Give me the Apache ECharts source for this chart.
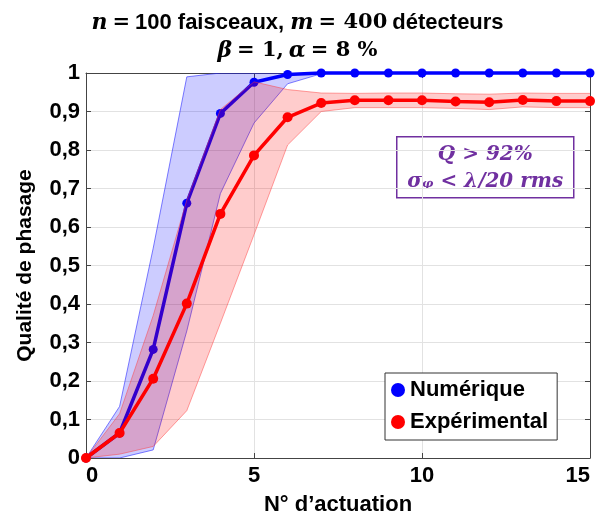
<!DOCTYPE html>
<html>
<head>
<meta charset="utf-8">
<script src="https://cdn.jsdelivr.net/npm/echarts@6/dist/echarts.min.js"></script>
<style>html,body{margin:0;padding:0;background:#fff}#c{width:595px;height:515px}</style>
</head>
<body>
<div id="c"></div>
<script>
const xValues = [0,1,2,3,4,5,6,7,8,9,10,11,12,13,14,15];
const numerique    = [0, 0.065, 0.282, 0.662, 0.895, 0.976, 0.996, 1, 1, 1, 1, 1, 1, 1, 1, 1];
const numLow       = [0, 0, 0.021, 0.33, 0.687, 0.870, 0.972, 0.998, 1, 1, 1, 1, 1, 1, 1, 1];
const numHigh      = [0, 0.134, 0.545, 0.99, 1, 1, 1, 1, 1, 1, 1, 1, 1, 1, 1, 1];
const experimental = [0, 0.065, 0.206, 0.401, 0.634, 0.786, 0.885, 0.922, 0.929, 0.929, 0.929, 0.926, 0.924, 0.930, 0.927, 0.927];
const expLow       = [0, 0.01, 0.03, 0.123, 0.35, 0.58, 0.813, 0.90, 0.91, 0.91, 0.91, 0.908, 0.905, 0.912, 0.91, 0.91];
const expHigh      = [0, 0.115, 0.37, 0.67, 0.905, 0.977, 0.957, 0.948, 0.947, 0.948, 0.948, 0.946, 0.945, 0.948, 0.947, 0.947];
const seriesNames  = ['Numérique', 'Expérimental'];
const xTicks = { min: 0, max: 15, interval: 5 };
const yTicks = { min: 0, max: 1, interval: 0.1 };

const sans = 'Liberation Sans, Arial, sans-serif';
const serif = 'DejaVu Serif, serif';

function bandSeries(low, high, fill, edge, z) {
  return {
    type: 'custom', z: z, clip: true, silent: true,
    data: [0],
    renderItem: function (params, api) {
      const up = xValues.map((x, i) => api.coord([x, high[i]]));
      const lo = xValues.map((x, i) => api.coord([x, low[i]])).reverse();
      return {
        type: 'group',
        children: [
          { type: 'polygon', shape: { points: up.concat(lo) }, style: { fill: fill, stroke: null } },
          { type: 'polyline', shape: { points: up }, style: { fill: null, stroke: edge, lineWidth: 0.8 } },
          { type: 'polyline', shape: { points: lo }, style: { fill: null, stroke: edge, lineWidth: 0.8 } }
        ]
      };
    }
  };
}

const chart = echarts.init(document.getElementById('c'), null, { renderer: 'canvas' });
const yFmt = v => (Math.abs(v) < 1e-9 ? '0' : Math.abs(v - 1) < 1e-9 ? '1' : v.toFixed(1).replace('.', ','));

chart.setOption({
  animation: false,
  backgroundColor: '#fff',
  title: {
    left: 'center', top: 4,
    text: '{mi|n} {mr|=} {t|100 faisceaux, }{mi|m} {mr|= 400} {t|détecteurs}\n{mi|β} {mr|= 1,} {mi|α} {mr|= 8 %}',
    textStyle: {
      rich: {
        mi: { fontFamily: serif, fontStyle: 'italic', fontWeight: 'bold', fontSize: 22, color: '#000', lineHeight: 28 },
        mr: { fontFamily: serif, fontWeight: 'bold', fontSize: 21, color: '#000', lineHeight: 28 },
        t: { fontFamily: sans, fontWeight: 'bold', fontSize: 22, color: '#000', lineHeight: 28 }
      }
    }
  },
  grid: { left: 86, right: 5, top: 73, bottom: 57, containLabel: false, outerBoundsMode: 'none' },
  xAxis: [
    {
      type: 'value', min: xTicks.min, max: xTicks.max, interval: xTicks.interval, position: 'bottom',
      name: 'N° d’actuation', nameLocation: 'middle', nameGap: 36,
      nameTextStyle: { fontFamily: sans, fontWeight: 'bold', fontSize: 22, color: '#000' },
      axisLine: { show: true, onZero: false, lineStyle: { color: '#444', width: 1 } },
      axisTick: { show: true, inside: true, length: 5, lineStyle: { color: '#444' } },
      axisLabel: { fontFamily: sans, fontWeight: 'bold', fontSize: 22, color: '#000', margin: 7, alignMinLabel: 'left', alignMaxLabel: 'right' },
      splitLine: { show: true, lineStyle: { color: '#e2e2e2', width: 1 } }
    },
    {
      type: 'value', min: xTicks.min, max: xTicks.max, interval: xTicks.interval, position: 'top',
      axisLine: { show: true, onZero: false, lineStyle: { color: '#444', width: 1 } },
      axisTick: { show: true, inside: true, length: 5, lineStyle: { color: '#444' } },
      axisLabel: { show: false }, splitLine: { show: false }
    }
  ],
  yAxis: [
    {
      type: 'value', min: yTicks.min, max: yTicks.max, interval: yTicks.interval, position: 'left',
      name: 'Qualité de phasage', nameLocation: 'middle', nameGap: 50, nameRotate: 90,
      nameTextStyle: { fontFamily: sans, fontWeight: 'bold', fontSize: 21, color: '#000' },
      axisLine: { show: true, onZero: false, lineStyle: { color: '#444', width: 1 } },
      axisTick: { show: true, inside: true, length: 5, lineStyle: { color: '#444' } },
      axisLabel: { fontFamily: sans, fontWeight: 'bold', fontSize: 22, color: '#000', margin: 6, formatter: yFmt },
      splitLine: { show: true, lineStyle: { color: '#e2e2e2', width: 1 } }
    },
    {
      type: 'value', min: yTicks.min, max: yTicks.max, interval: yTicks.interval, position: 'right',
      axisLine: { show: true, onZero: false, lineStyle: { color: '#444', width: 1 } },
      axisTick: { show: true, inside: true, length: 5, lineStyle: { color: '#444' } },
      axisLabel: { show: false }, splitLine: { show: false }
    }
  ],
  legend: {
    data: seriesNames, orient: 'vertical', left: 385, top: 373,
    icon: 'circle', itemWidth: 14, itemHeight: 14, itemGap: 10,
    padding: [6, 9, 7, 6],
    backgroundColor: '#fff', borderColor: '#333', borderWidth: 1,
    textStyle: { fontFamily: sans, fontWeight: 'bold', fontSize: 22, color: '#000' }
  },
  graphic: [
    {
      type: 'group', left: 396, top: 136, z: 100,
      children: [
        { type: 'rect', shape: { x: 0, y: 0, width: 177, height: 61 }, style: { fill: '#fff', stroke: '#7030A0', lineWidth: 1.5 } },
        { type: 'text', x: 88.5, y: 18, style: { text: 'Q > 92%', fontFamily: serif, fontStyle: 'italic', fontWeight: 'bold', fontSize: 20, fill: '#7030A0', align: 'center', verticalAlign: 'middle' } },
        { type: 'text', x: 88.5, y: 45, style: { text: 'σ\u1D69 < λ/20 rms', fontFamily: serif, fontStyle: 'italic', fontWeight: 'bold', fontSize: 20, fill: '#7030A0', align: 'center', verticalAlign: 'middle' } }
      ]
    }
  ],
  series: [
    bandSeries(numLow, numHigh, 'rgba(0,0,255,0.2)', 'rgba(40,40,255,0.75)', 1),
    {
      name: seriesNames[0], type: 'line', z: 2,
      data: xValues.map((x, i) => [x, numerique[i]]),
      color: '#0000ff', lineStyle: { width: 3.5, color: '#0000ff' },
      symbol: 'circle', symbolSize: 9, itemStyle: { color: '#0000ff' }, clip: false
    },
    bandSeries(expLow, expHigh, 'rgba(255,0,0,0.2)', 'rgba(255,60,60,0.6)', 3),
    {
      name: seriesNames[1], type: 'line', z: 4,
      data: xValues.map((x, i) => [x, experimental[i]]),
      color: '#ff0000', lineStyle: { width: 3.5, color: '#ff0000' },
      symbol: 'circle', symbolSize: 10, itemStyle: { color: '#ff0000' }, clip: false
    }
  ]
});
</script>
</body>
</html>
